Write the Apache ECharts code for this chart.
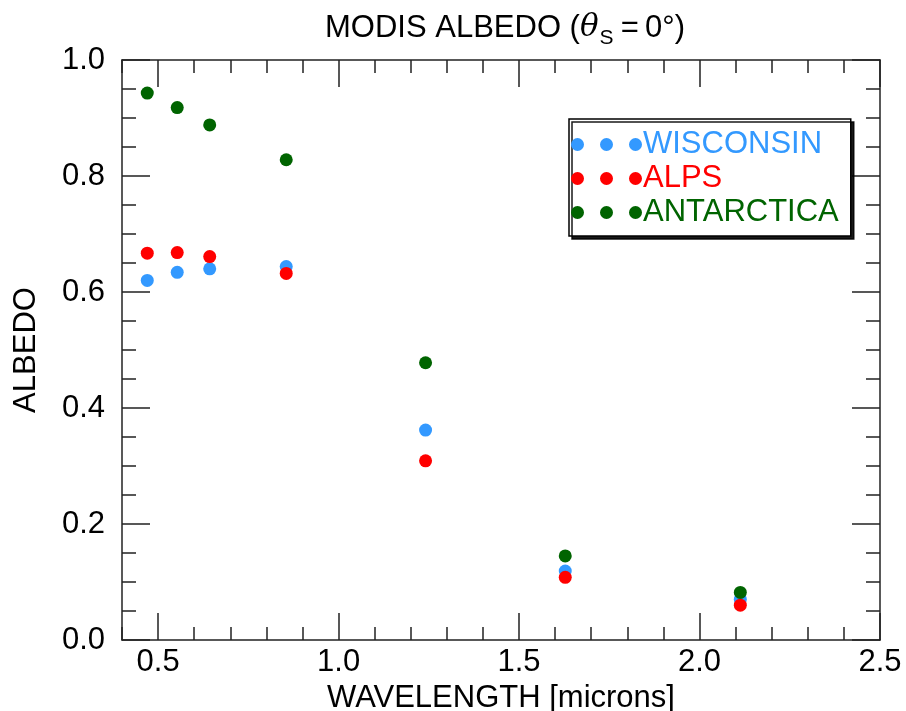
<!DOCTYPE html>
<html>
<head>
<meta charset="utf-8">
<script src="https://cdn.jsdelivr.net/npm/echarts@6/dist/echarts.min.js"></script>
<style>html,body{margin:0;padding:0;background:#fff}#c{width:906px;height:711px}</style>
</head>
<body>
<div id="c"></div>
<script>
var wavelengths = [0.470, 0.553, 0.643, 0.855, 1.241, 1.628, 2.113];
var wisconsin  = [0.620, 0.634, 0.640, 0.644, 0.362, 0.119, 0.070];
var alps       = [0.667, 0.668, 0.661, 0.632, 0.309, 0.108, 0.060];
var antarctica = [0.943, 0.918, 0.888, 0.828, 0.478, 0.145, 0.082];
var seriesNames = ['WISCONSIN', 'ALPS', 'ANTARCTICA'];
var seriesColors = ['#3399ff', '#ff0000', '#006400'];
var xMajorTicks = [0.5, 1.0, 1.5, 2.0, 2.5];
var xMinorTicks = [0.4, 0.6, 0.7, 0.8, 0.9, 1.1, 1.2, 1.3, 1.4, 1.6, 1.7, 1.8, 1.9, 2.1, 2.2, 2.3, 2.4];
var yMajorTicks = [0.0, 0.2, 0.4, 0.6, 0.8, 1.0];

var FONT = "'Liberation Sans', Arial, Helvetica, sans-serif";
var AX = '#222';
var FS = 31;

function pairs(ys) { return wavelengths.map(function (x, i) { return [x, ys[i]]; }); }

function xAxisDef(pos, ticks, len, labels, isMain) {
  return {
    type: 'value', position: pos, min: 0.4, max: 2.5, interval: 0.1,
    axisLine: { show: isMain, lineStyle: { color: AX, width: 1.5 } },
    axisTick: { show: true, inside: true, length: len, customValues: ticks, lineStyle: { color: AX, width: 1.5 } },
    axisLabel: { show: labels, customValues: xMajorTicks, margin: 7, color: '#000', fontSize: FS, fontFamily: FONT,
      formatter: function (v) { return v.toFixed(1); } },
    splitLine: { show: false },
    name: labels ? 'WAVELENGTH [microns]' : '',
    nameLocation: 'middle', nameGap: 34,
    nameTextStyle: { color: '#000', fontSize: FS, fontFamily: FONT }
  };
}
function yAxisDef(pos, labels) {
  return {
    type: 'value', position: pos, min: 0, max: 1, interval: 0.2,
    axisLine: { show: true, lineStyle: { color: AX, width: 1.5 } },
    axisTick: { show: true, inside: true, length: 28, lineStyle: { color: AX, width: 1.5 } },
    minorTick: { show: true, splitNumber: 4, length: 14, lineStyle: { color: AX, width: 1.5 } },
    axisLabel: { show: labels, margin: 17, color: '#000', fontSize: FS, fontFamily: FONT,
      formatter: function (v) { return v.toFixed(1); } },
    splitLine: { show: false },
    name: labels ? 'ALBEDO' : '',
    nameLocation: 'middle', nameGap: 80, nameRotate: 90,
    nameTextStyle: { color: '#000', fontSize: FS, fontFamily: FONT }
  };
}

var dots = 'path://M0,6.5a6.5,6.5 0 1,0 13,0a6.5,6.5 0 1,0 -13,0Z' +
  'M29,6.5a6.5,6.5 0 1,0 13,0a6.5,6.5 0 1,0 -13,0Z' +
  'M58,6.5a6.5,6.5 0 1,0 13,0a6.5,6.5 0 1,0 -13,0Z';

var chart = echarts.init(document.getElementById('c'), null, { renderer: 'canvas' });
chart.setOption({
  animation: false,
  backgroundColor: '#fff',
  title: {
    text: 'MODIS ALBEDO ({th|θ}{s|S}\u2009=\u20090°)',
    left: 320, top: 8,
    textStyle: {
      fontSize: FS, fontWeight: 'normal', color: '#000', fontFamily: FONT, lineHeight: 30,
      rich: {
        th: { fontSize: FS, fontStyle: 'italic', fontFamily: "'DejaVu Serif', serif", color: '#000', lineHeight: 30 },
        s: { fontSize: 21, color: '#000', fontFamily: FONT, lineHeight: 20, padding: [20, 1, 0, 1] }
      }
    }
  },
  grid: { left: 122, right: 26, top: 60, bottom: 71, containLabel: false, outerBoundsMode: 'none' },
  legend: {
    orient: 'vertical', left: 569, top: 119,
    padding: [10, 12, 8, 2], itemGap: 3,
    itemWidth: 71, itemHeight: 13, icon: dots,
    backgroundColor: '#fff', borderColor: '#000', borderWidth: 1.5,
    shadowColor: 'rgba(0,0,0,0.9)', shadowBlur: 0, shadowOffsetX: 3, shadowOffsetY: 3,
    textStyle: { fontSize: FS, fontFamily: FONT, lineHeight: 30, padding: [0, 0, 0, -4] },
    data: seriesNames.map(function (n, i) { return { name: n, textStyle: { color: seriesColors[i] } }; })
  },
  xAxis: [
    xAxisDef('bottom', xMajorTicks, 27, true, true),
    xAxisDef('bottom', xMinorTicks, 13, false, false),
    xAxisDef('top', xMajorTicks, 27, false, true),
    xAxisDef('top', xMinorTicks, 13, false, false)
  ],
  yAxis: [yAxisDef('left', true), yAxisDef('right', false)],
  series: [
    { name: 'WISCONSIN', type: 'scatter', data: pairs(wisconsin), symbolSize: 13, itemStyle: { color: seriesColors[0], opacity: 1 } },
    { name: 'ANTARCTICA', type: 'scatter', data: pairs(antarctica), symbolSize: 13, itemStyle: { color: seriesColors[2], opacity: 1 } },
    { name: 'ALPS', type: 'scatter', data: pairs(alps), symbolSize: 13, itemStyle: { color: seriesColors[1], opacity: 1 } }
  ]
});
</script>
</body>
</html>
